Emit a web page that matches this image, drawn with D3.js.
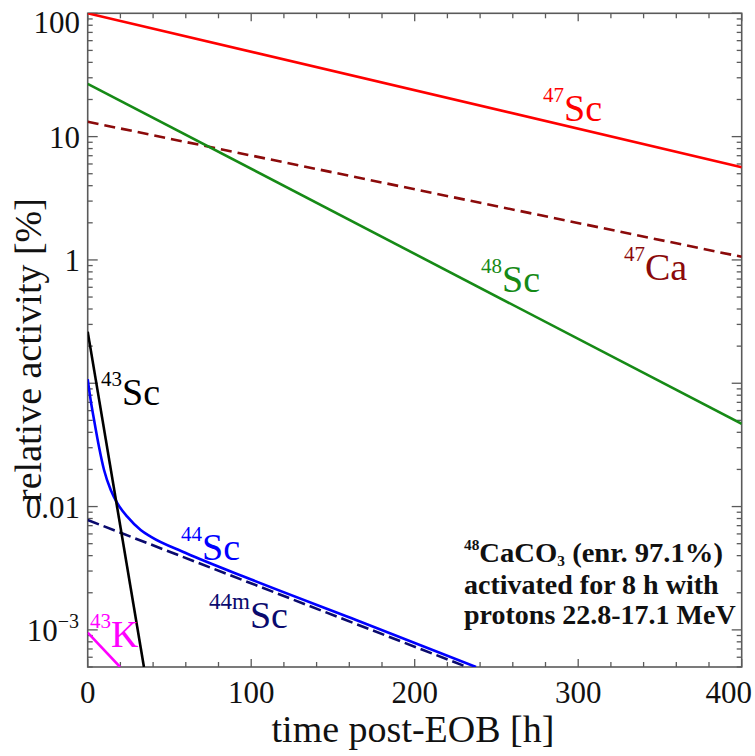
<!DOCTYPE html>
<html>
<head>
<meta charset="utf-8">
<script src="https://cdn.jsdelivr.net/npm/d3@7"></script>
<style>
  html, body { margin: 0; padding: 0; background: #fff; }
  svg, svg text { font-family: 'Liberation Serif', 'Times New Roman', Times, serif; }
</style>
</head>
<body>
<svg id="chart" width="755" height="756" font-family="Liberation Serif, Times New Roman, serif"></svg>
<script>
// ---- data (time in h, relative activity in %) ----
const sc47T  = [0, 400];
const sc47V  = [100, 5.65];
const ca47T  = [0, 400];
const ca47V  = [13.2, 1.06];
const sc48T  = [0, 400];
const sc48V  = [26.8, 0.0468];
const sc43T  = [0, 34.4];
const sc43V  = [0.262, 0.0005];
const sc44T  = [0, 1.8, 3.9, 6.9, 10, 14.1, 18.1, 24.2, 32.4, 38.5, 60, 100, 166.5, 237.5];
const sc44V  = [0.108, 0.0732, 0.0504, 0.0306, 0.0198, 0.0136, 0.01064, 0.00828, 0.00646, 0.0057, 0.0042, 0.00256, 0.00117, 0.0005];
const sc44mT = [0, 232];
const sc44mV = [0.00778, 0.0005];
const k43T   = [0, 19.8];
const k43V   = [0.00095, 0.0005];

const xTickValues = [0, 100, 200, 300, 400];
const xTickLabels = ["0", "100", "200", "300", "400"];
const yMajorValues = [100, 10, 1, 0.1, 0.01, 0.001];
const yMajorLabels = ["100", "10", "1", "", "0.01", "10^-3"];

const xTitle = "time post-EOB [h]";
const yTitle = "relative activity [%]";
const noteLines = ["48CaCO3 (enr. 97.1%)", "activated for 8 h with", "protons 22.8-17.1 MeV"];

// ---- layout ----
const FONT = "Liberation Serif";
const L = 87.7, R = 741.7, T = 13.3, B = 667;
const W = 755;
const svg = d3.select("#chart");

const x = d3.scaleLinear().domain([0, 400]).range([L, R]);
const y = d3.scaleLog().domain([5e-4, 100]).range([B, T]);

const frameColor = "#5a5a5a";

svg.append("defs").append("clipPath").attr("id", "clip")
  .append("rect").attr("x", L).attr("y", T).attr("width", R - L).attr("height", B - T);

// ---- ticks ----
const tickG = svg.append("g").attr("stroke", frameColor).attr("stroke-width", 1.3);
d3.range(0, 401, 20).forEach(t => {
  const len = (t % 100 === 0) ? 8 : 5;
  tickG.append("line").attr("x1", x(t)).attr("x2", x(t)).attr("y1", B).attr("y2", B - len);
  tickG.append("line").attr("x1", x(t)).attr("x2", x(t)).attr("y1", T).attr("y2", T + len);
});
const yTicksAll = y.ticks(60).filter(v => v >= 5e-4 && v <= 100);
yTicksAll.forEach(v => {
  const mant = v / Math.pow(10, Math.floor(Math.log10(v) + 1e-9));
  const major = Math.abs(mant - 1) < 1e-6;
  const len = major ? 10 : 5;
  tickG.append("line").attr("x1", L).attr("x2", L + len).attr("y1", y(v)).attr("y2", y(v));
  tickG.append("line").attr("x1", R).attr("x2", R - len).attr("y1", y(v)).attr("y2", y(v));
});

svg.append("rect").attr("x", L).attr("y", T).attr("width", R - L).attr("height", B - T)
  .attr("fill", "none").attr("stroke", frameColor).attr("stroke-width", 1.6);

// ---- tick labels ----
const tl = svg.append("g").attr("fill", "#111").attr("font-size", 31).attr("font-family", FONT);
xTickValues.forEach((v, i) => {
  const t = tl.append("text").attr("x", x(v)).attr("y", 703).attr("text-anchor", "middle").text(xTickLabels[i]);
  const bb = t.node().getBBox();
  if (bb.x + bb.width > W - 3) t.attr("text-anchor", "end").attr("x", W - 3);
});
yMajorValues.forEach((v, i) => {
  const lab = yMajorLabels[i];
  if (!lab) return;
  const yy = Math.max(y(v), 22) + 11;
  if (lab.indexOf("^") >= 0) {
    const [base, exp] = lab.split("^");
    const t = tl.append("text").attr("x", 79).attr("y", yy).attr("text-anchor", "end");
    t.append("tspan").text(base);
    t.append("tspan").attr("font-size", 20).attr("dy", -13).text(exp.replace("-", "\u2212"));
  } else {
    tl.append("text").attr("x", 80).attr("y", yy).attr("text-anchor", "end").text(lab);
  }
});

// ---- axis titles ----
svg.append("text").attr("x", 413).attr("y", 742).attr("text-anchor", "middle").attr("font-family", FONT)
  .attr("font-size", 38).attr("fill", "#111").text(xTitle);
svg.append("text").attr("transform", "translate(41,350) rotate(-90)").attr("text-anchor", "middle").attr("font-family", FONT)
  .attr("font-size", 38).attr("fill", "#111").text(yTitle);

// ---- curves ----
const series = [
  {t: sc47T,  v: sc47V,  color: "#ff0000", dash: null},
  {t: ca47T,  v: ca47V,  color: "#8b0a0a", dash: "11,6"},
  {t: sc48T,  v: sc48V,  color: "#168a16", dash: null},
  {t: sc44mT, v: sc44mV, color: "#0a0a6e", dash: "12,5"},
  {t: sc44T,  v: sc44V,  color: "#0000ff", dash: null},
  {t: sc43T,  v: sc43V,  color: "#000000", dash: null},
  {t: k43T,   v: k43V,   color: "#ff00ff", dash: null}
];
const line = d3.line().x(d => x(d[0])).y(d => y(d[1])).curve(d3.curveMonotoneX);
const cg = svg.append("g").attr("clip-path", "url(#clip)");
series.forEach(s => {
  const pts = s.t.map((t, i) => [t, s.v[i]]);
  cg.append("path").attr("d", line(pts)).attr("fill", "none")
    .attr("stroke", s.color).attr("stroke-width", 2.6)
    .attr("stroke-dasharray", s.dash);
});

// ---- series labels ----
function isoLabel(xp, yp, sup, sym, color, supSize) {
  const t = svg.append("text").attr("x", xp).attr("y", yp).attr("fill", color)
    .attr("font-size", 38).attr("font-family", FONT);
  t.append("tspan").attr("font-size", supSize || 21).attr("dy", -19).text(sup);
  t.append("tspan").attr("dy", 19).text(sym);
}
isoLabel(543, 121, "47", "Sc", "#ff0000");
isoLabel(624, 280, "47", "Ca", "#8b0a0a");
isoLabel(481, 292, "48", "Sc", "#168a16");
isoLabel(101, 405, "43", "Sc", "#000000");
isoLabel(181, 560, "44", "Sc", "#0000ff");
isoLabel(209, 628, "44m", "Sc", "#0a0a6e", 23);
isoLabel(90, 647, "43", "K", "#ff00ff");

// ---- annotation ----
const ng = svg.append("g").attr("font-weight", "bold").attr("font-size", 28).attr("fill", "#111").attr("font-family", FONT);
const l1 = ng.append("text").attr("x", 464).attr("y", 562)
  .attr("textLength", 259).attr("lengthAdjust", "spacingAndGlyphs");
l1.append("tspan").attr("font-size", 15).attr("dy", -12).text(noteLines[0].slice(0, 2));
l1.append("tspan").attr("dy", 12).text(noteLines[0].slice(2, 6));
l1.append("tspan").attr("font-size", 15).attr("dy", 4).text(noteLines[0].slice(6, 7));
l1.append("tspan").attr("dy", -4).text(noteLines[0].slice(7));
ng.append("text").attr("x", 464).attr("y", 594).text(noteLines[1]);
ng.append("text").attr("x", 464).attr("y", 624).text(noteLines[2]);
</script>
</body>
</html>
